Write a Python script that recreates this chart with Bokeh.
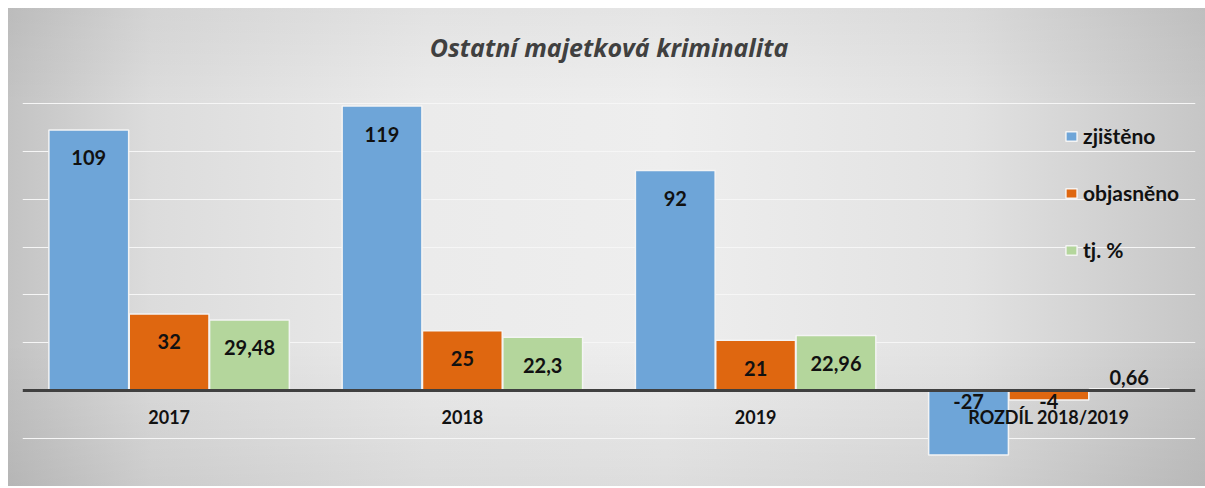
from bokeh.plotting import figure
from bokeh.models import ColumnDataSource, FactorRange, Range1d, Span, Legend, LegendItem, FixedTicker
from bokeh.transform import dodge
from bokeh.embed import file_html
from bokeh.resources import INLINE
from bokeh.core.properties import value

categories = ["2017", "2018", "2019", "ROZDÍL 2018/2019"]
zjisteno = [109, 119, 92, -27]
objasneno = [32, 25, 21, -4]
tj_pct = [29.48, 22.3, 22.96, 0.66]

series_names = ["zjištěno", "objasněno", "tj. %"]
series_vals = [zjisteno, objasneno, tj_pct]
colors = ["#6ea5d8", "#df6710", "#b4d69c"]
offsets = [-0.274, 0.0, 0.274]

FONT = "Lato"

p = figure(x_range=FactorRange(*categories, range_padding=0), y_range=Range1d(-40.2, 129.7),
           width=1197, height=478, output_backend="svg", toolbar_location=None,
           min_border_left=14, min_border_right=10, min_border_top=72, min_border_bottom=0)
p.margin = (8, 0, 0, 8)
p.background_fill_alpha = 0
p.border_fill_alpha = 0
p.styles = {"background": "linear-gradient(to bottom, rgba(0,0,0,0.04) 0%, rgba(0,0,0,0) 20%, "
                          "rgba(0,0,0,0) 70%, rgba(0,0,0,0.07) 100%), "
                          "linear-gradient(to right, #c3c3c3 0%, #dcdcdc 12%, #ebebeb 35%, "
                          "#eeeeee 55%, #e2e2e2 80%, #c6c6c6 100%)"}
p.outline_line_color = None
p.axis.visible = False
p.xgrid.visible = False
p.ygrid.ticker = FixedTicker(ticks=list(range(-40, 141, 20)))
p.ygrid.grid_line_color = "#f6f6f6"
p.ygrid.grid_line_width = 1

p.title.text = "Ostatní majetková kriminalita"
p.title.align = "center"
p.title.text_font = "Open Sans"
p.title.text_font_style = "bold italic"
p.title.text_font_size = "25px"
p.title.text_color = "#404040"
p.title.standoff = 33

def fmt(v):
    return str(v).replace(".", ",")

renderers = []
for name, vals, col, off in zip(series_names, series_vals, colors, offsets):
    ly, lo = [], []
    for v in vals:
        if v < 0:
            ly.append(0); lo.append(11)
        elif v < 5:
            ly.append(v); lo.append(-11)
        else:
            ly.append(v); lo.append(28)
    src = ColumnDataSource(dict(cat=categories, val=vals, lab=[fmt(v) for v in vals],
                                ly=ly, lo=lo))
    r = p.vbar(x=dodge("cat", off, range=p.x_range), top="val", bottom=0, width=0.272,
               source=src, fill_color=col, line_color="#f4f4f4", line_width=1.5)
    renderers.append(r)
    p.text(x=dodge("cat", off, range=p.x_range), y="ly", text="lab", y_offset="lo",
           source=src, text_align="center", text_baseline="middle",
           text_font=value(FONT), text_font_style="bold", text_font_size="20px",
           text_color="#111111")

p.add_layout(Span(location=0, dimension="width", line_color="#404040", line_width=3))

csrc = ColumnDataSource(dict(cat=categories, y=[0] * len(categories)))
p.text(x="cat", y="y", text="cat", source=csrc, y_offset=27, text_align="center",
       text_baseline="middle", text_font=value(FONT), text_font_style="bold",
       text_font_size="18px", text_color="#111111")

legend = Legend(items=[LegendItem(label=n, renderers=[r]) for n, r in zip(series_names, renderers)],
                location=(1042, 224))
legend.background_fill_alpha = 0
legend.border_line_color = None
legend.label_text_font = FONT
legend.label_text_font_style = "bold"
legend.label_text_font_size = "21px"
legend.label_text_color = "#111111"
legend.glyph_width = 14
legend.glyph_height = 12
legend.label_height = 20
legend.spacing = 32
legend.label_standoff = 5
p.add_layout(legend)

open("out.html", "w").write(file_html(p, INLINE))
